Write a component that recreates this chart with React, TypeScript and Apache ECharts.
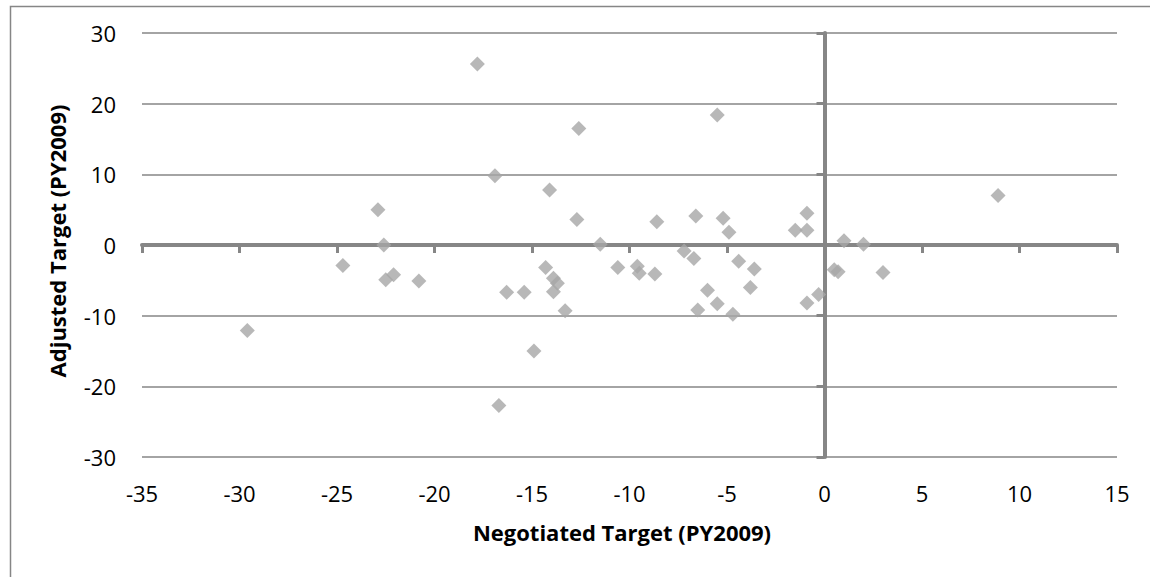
import React, { useEffect, useRef } from 'react';
import * as echarts from 'echarts';

// Negotiated target (x) vs adjusted target (y), PY2009
const negotiated = [
  -29.6, -24.7, -22.9, -22.6, -22.5, -22.1, -20.8, -17.8, -16.9, -16.7,
  -16.3, -15.4, -14.9, -14.3, -14.1, -13.9, -13.7, -13.9, -13.3, -12.7,
  -12.6, -11.5, -10.6, -9.6, -9.5, -8.7, -8.6, -7.2, -6.7, -6.6,
  -6.5, -6.0, -5.5, -5.5, -5.2, -4.9, -4.7, -4.4, -3.8, -3.6,
  -1.5, -0.9, -0.9, -0.9, -0.3, 0.5, 0.7, 1.0, 2.0, 3.0,
  8.9,
];
const adjusted = [
  -12.1, -2.9, 5.0, 0.0, -4.9, -4.2, -5.1, 25.6, 9.8, -22.7,
  -6.7, -6.7, -15.0, -3.2, 7.8, -4.7, -5.4, -6.6, -9.3, 3.6,
  16.5, 0.1, -3.2, -3.0, -4.0, -4.1, 3.3, -0.85, -1.9, 4.1,
  -9.2, -6.4, 18.4, -8.3, 3.8, 1.8, -9.8, -2.3, -6.0, -3.4,
  2.1, 4.5, 2.1, -8.2, -7.0, -3.5, -3.8, 0.6, 0.1, -3.9,
  7.0,
];

const xTitle = 'Negotiated Target (PY2009)';
const yTitle = 'Adjusted Target (PY2009)';

const FONT = '"Open Sans", sans-serif';
const GREY = '#868686';

export default function App() {
  const ref = useRef<HTMLDivElement>(null);

  useEffect(() => {
    if (!ref.current) return;
    const chart = echarts.init(ref.current, null, { renderer: 'svg' });

    const points = negotiated.map((x, i) => [x, adjusted[i]]);

    const labelStyle = { color: '#000', fontFamily: FONT, fontSize: 22 };

    chart.setOption({
      animation: false,
      backgroundColor: '#fff',
      grid: { left: 142, right: 33, top: 33, bottom: 120 },
      xAxis: [
        {
          type: 'value', min: -35, max: 15, interval: 5, position: 'bottom',
          axisLine: { show: false, onZero: false },
          axisTick: { show: false },
          splitLine: { show: false },
          axisLabel: { ...labelStyle, margin: 25 },
        },
        {
          // zero line with downward ticks
          type: 'value', min: -35, max: 15, interval: 5, position: 'top',
          axisLine: { show: true, onZero: true, lineStyle: { color: GREY, width: 4 } },
          axisTick: { show: true, inside: true, length: 8, lineStyle: { color: GREY, width: 3 } },
          splitLine: { show: false },
          axisLabel: { show: false },
        },
      ],
      yAxis: [
        {
          type: 'value', min: -30, max: 30, interval: 10, position: 'left',
          axisLine: { show: false, onZero: false },
          axisTick: { show: false },
          splitLine: { show: true, lineStyle: { color: GREY, width: 1.5 } },
          axisLabel: { ...labelStyle, margin: 26 },
        },
        {
          type: 'value', min: -30, max: 30, interval: 10, position: 'right',
          axisLine: { show: true, onZero: true, lineStyle: { color: GREY, width: 4 } },
          axisTick: { show: true, inside: true, length: 8, lineStyle: { color: GREY, width: 3 } },
          splitLine: { show: false },
          axisLabel: { show: false },
        },
      ],
      graphic: [
        {
          type: 'rect', left: 8, top: 4, silent: true,
          shape: { width: 1200, height: 700 },
          style: { fill: 'none', stroke: GREY, lineWidth: 1.5 },
        },
        {
          type: 'text', x: 622, y: 532,
          style: {
            text: xTitle, fill: '#000', font: `bold 22px ${FONT}`,
            textAlign: 'center', textVerticalAlign: 'middle',
          },
        },
        {
          type: 'text', x: 57, y: 241, rotation: Math.PI / 2,
          style: {
            text: yTitle, fill: '#000', font: `bold 22px ${FONT}`,
            textAlign: 'center', textVerticalAlign: 'middle',
          },
        },
      ],
      series: [
        {
          type: 'scatter',
          xAxisIndex: 0,
          yAxisIndex: 0,
          symbol: 'diamond',
          symbolSize: 15,
          itemStyle: { color: '#a6a6a6' },
          data: points,
          z: 5,
        },
      ],
    });

    return () => chart.dispose();
  }, []);

  return (
    <div
      ref={ref}
      style={{ position: 'fixed', left: 0, top: 0, width: 1150, height: 577 }}
    />
  );
}
